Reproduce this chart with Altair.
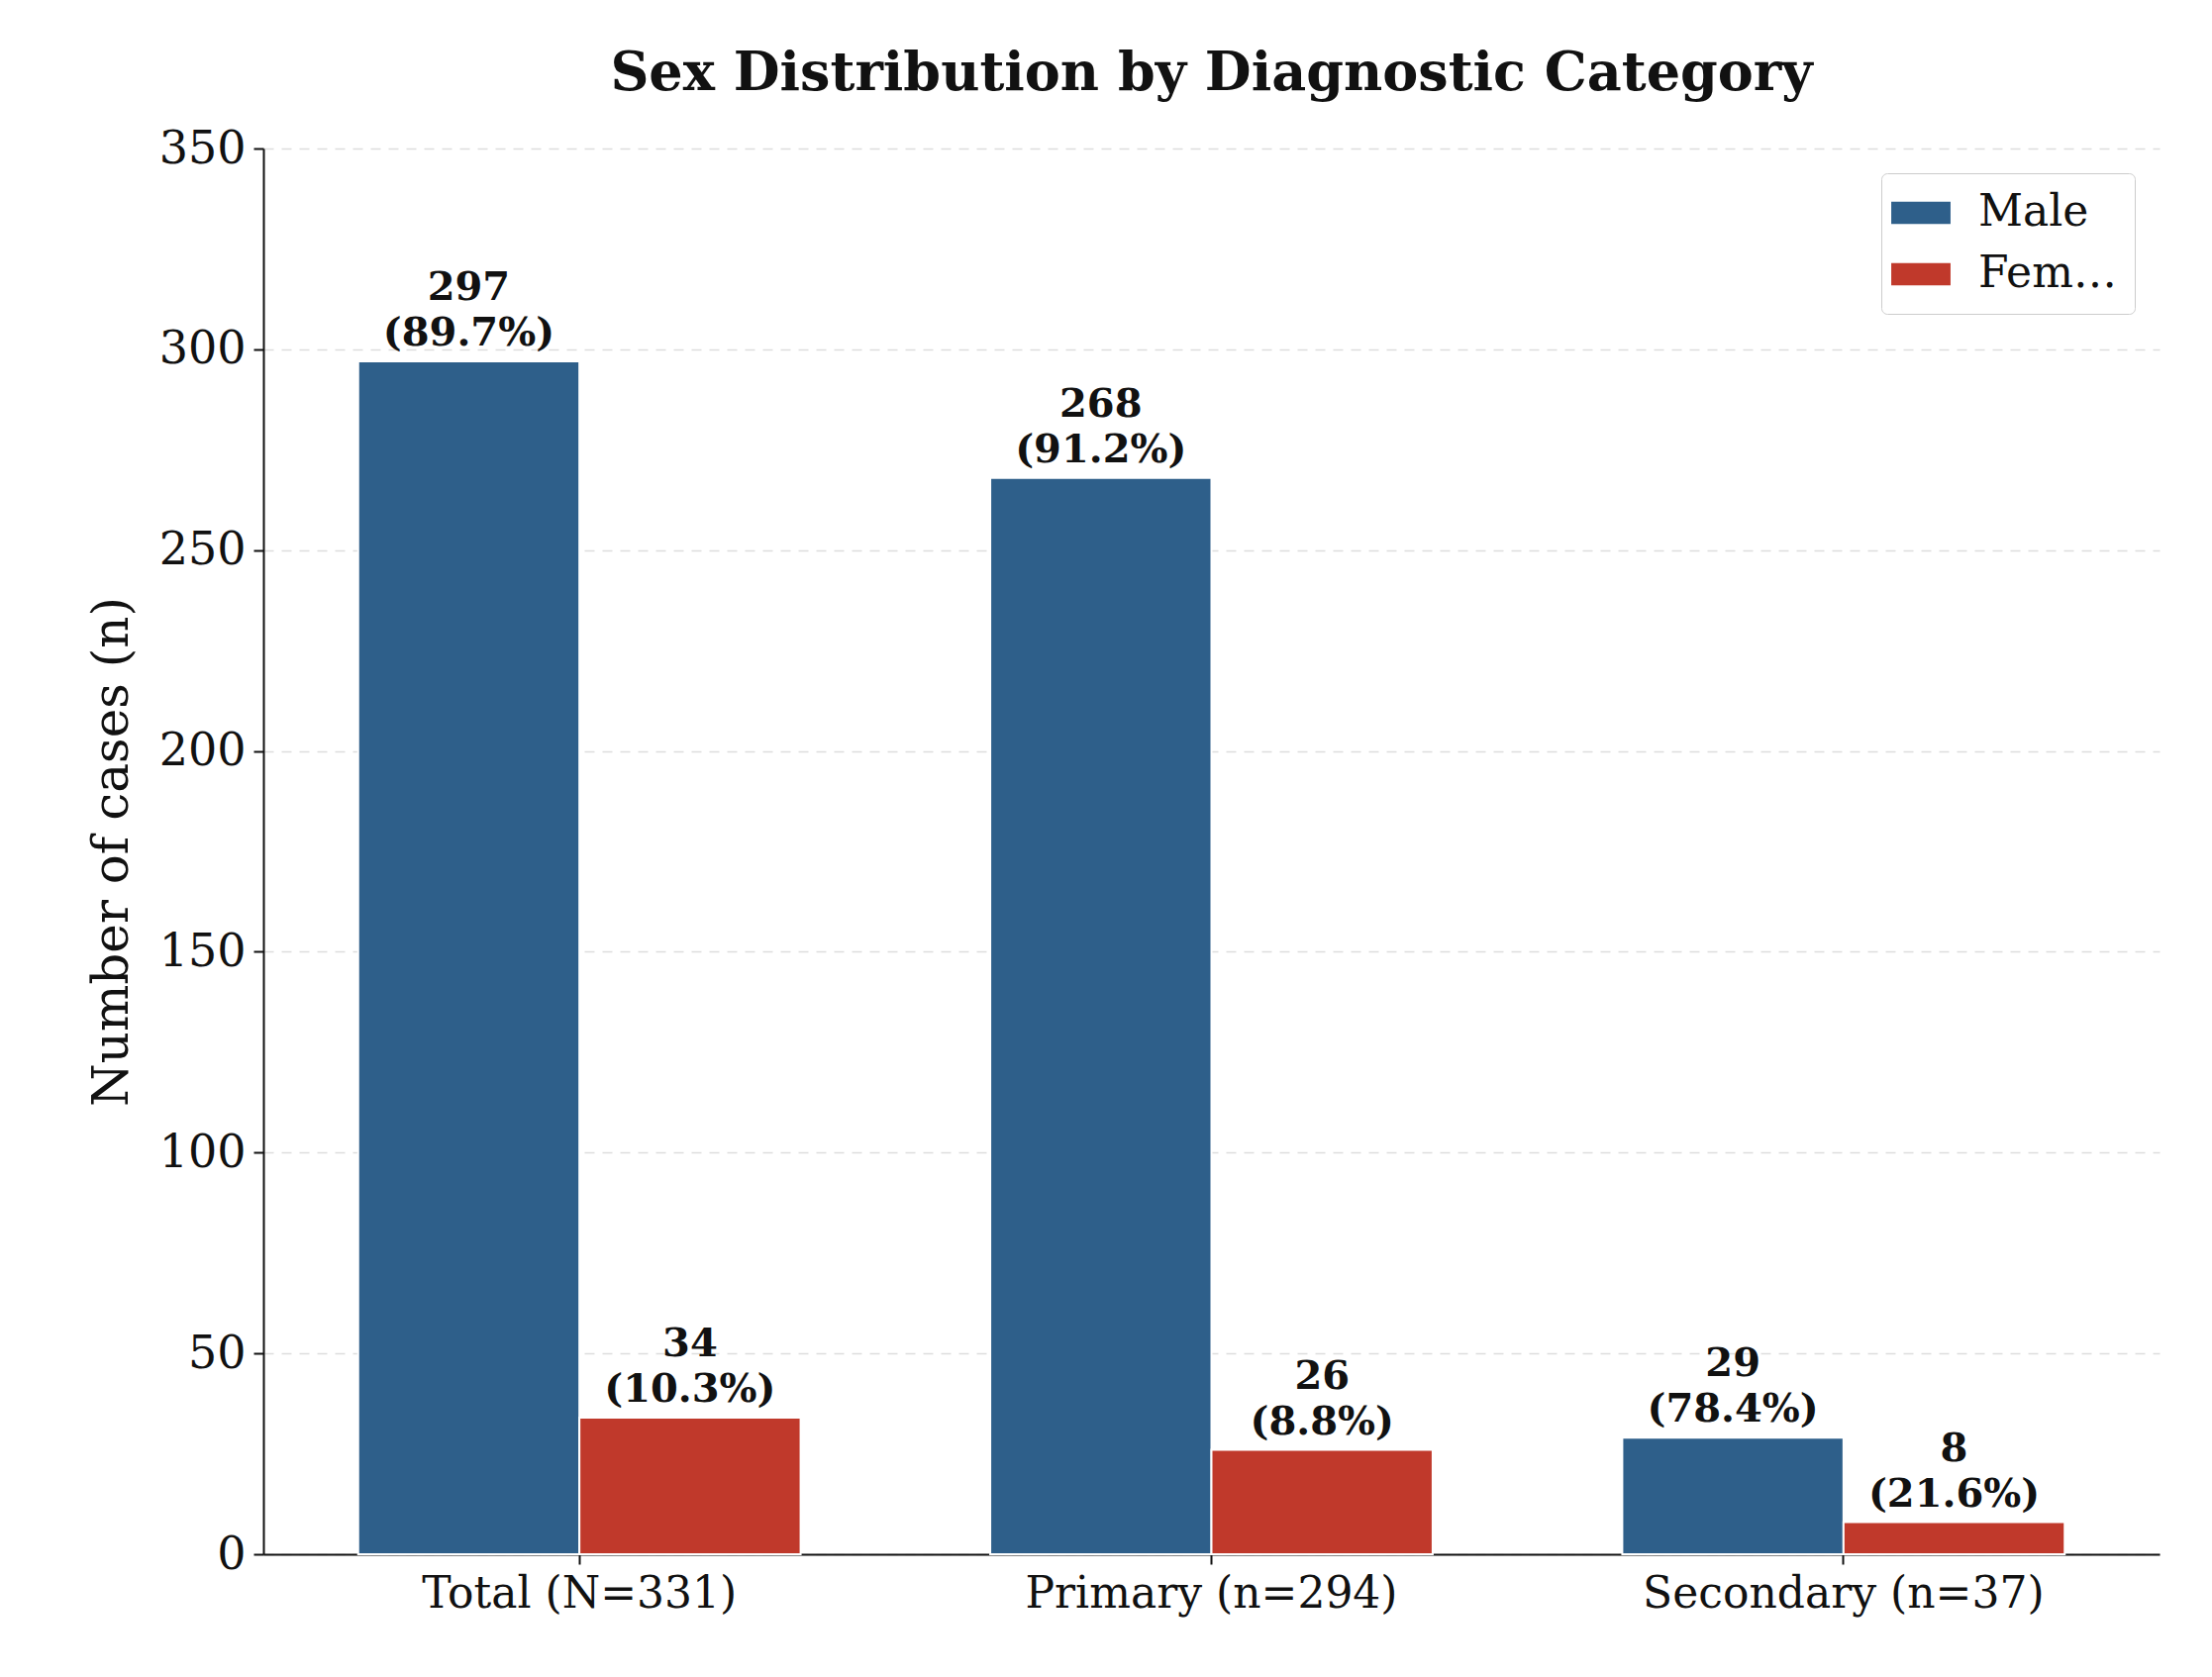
import altair as alt
import pandas as pd

categories = ["Total (N=331)", "Primary (n=294)", "Secondary (n=37)"]
male_counts = [297, 268, 29]
female_counts = [34, 26, 8]
male_pct = [89.7, 91.2, 78.4]
female_pct = [10.3, 8.8, 21.6]

rows = []
for i, cat in enumerate(categories):
    rows.append({"cat": cat, "sex": "Male", "n": male_counts[i],
                 "label": f"{male_counts[i]}\n({male_pct[i]}%)"})
    rows.append({"cat": cat, "sex": "Female", "n": female_counts[i],
                 "label": f"{female_counts[i]}\n({female_pct[i]}%)"})
df = pd.DataFrame(rows)

font = "DejaVu Serif"
x = alt.X("cat:N", sort=categories, title=None,
          scale=alt.Scale(paddingInner=0.3, paddingOuter=0.15),
          axis=alt.Axis(labelAngle=0, labelFontSize=44, labelFont=font, labelColor="#111",
                        labelLimit=0, tickSize=10, tickWidth=2, domainWidth=2,
                        domainColor="#111", tickColor="#111", labelPadding=8))
xo = alt.XOffset("sex:N", sort=["Male", "Female"])

bars = alt.Chart(df).mark_bar(stroke="white", strokeWidth=2).encode(
    x=x, xOffset=xo,
    y=alt.Y("n:Q", title="Number of cases (n)",
            scale=alt.Scale(domain=[0, 350]),
            axis=alt.Axis(values=list(range(0, 351, 50)), labelFontSize=46, labelFont=font,
                          labelColor="#111", titleFontSize=50, titleFont=font,
                          titleFontWeight="normal", titleColor="#111", titlePadding=22,
                          tickSize=10, tickWidth=2, domainWidth=2, domainColor="#111",
                          tickColor="#111", grid=True, gridDash=[10, 8],
                          gridColor="#dddddd", gridWidth=1.5, labelPadding=8)),
    color=alt.Color("sex:N", sort=["Male", "Female"], title=None,
                    scale=alt.Scale(domain=["Male", "Female"], range=["#2e5f8a", "#c0392b"]),
                    legend=alt.Legend(orient="top-right", offset=25,
                                      symbolType="M-1.6,-0.6h3.2v1.2h-3.2z",
                                      symbolSize=1400, symbolStrokeWidth=0, labelFontSize=44,
                                      labelFont=font, labelColor="#111", strokeColor="#ccc",
                                      padding=18, cornerRadius=6, rowPadding=18,
                                      fillColor="white", labelOffset=36)),
)

labels = alt.Chart(df).mark_text(
    baseline="bottom", dy=-54, fontSize=40, fontWeight="bold", font=font,
    lineBreak="\n", color="#111", lineHeight=46
).encode(x=x, xOffset=xo, y="n:Q", text="label:N")

chart = alt.layer(bars, labels).properties(
    width=1915, height=1420,
    padding={"left": 80, "top": 40, "right": 20, "bottom": 20},
    title=alt.TitleParams("Sex Distribution by Diagnostic Category", fontSize=54,
                          font=font, fontWeight="bold", color="#111", offset=25),
).configure_view(stroke=None)

chart.save("out.html", embed_options={"renderer": "svg", "actions": False})
